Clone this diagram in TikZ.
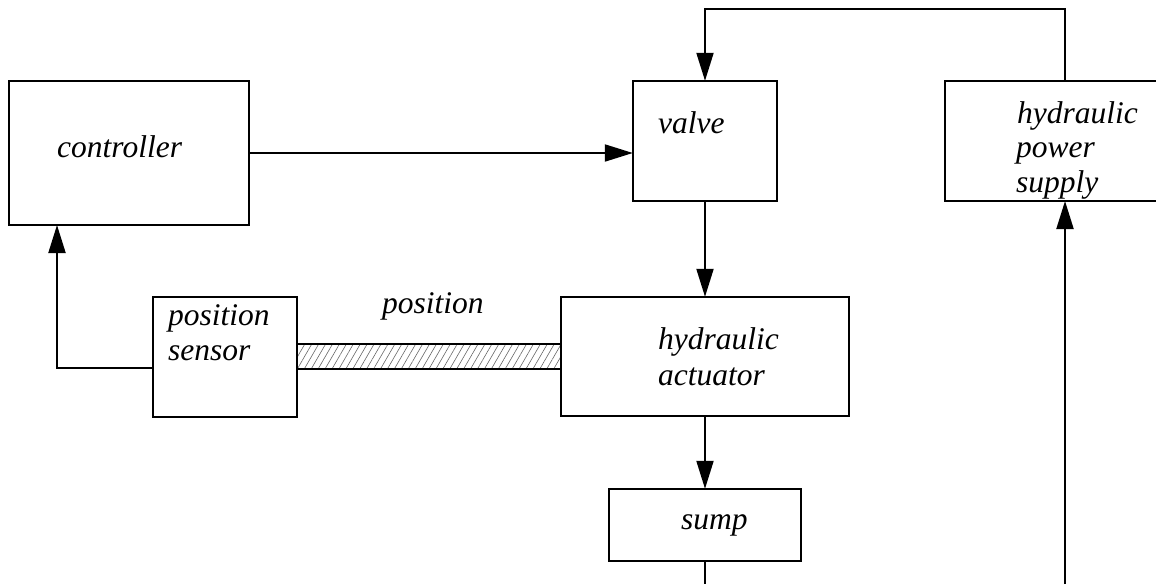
\documentclass[tikz,border=0pt]{standalone}
\usepackage{fontspec}
\setmainfont{Liberation Serif}
\usetikzlibrary{arrows.meta,patterns.meta,calc}
\begin{document}
\begin{tikzpicture}[x=1pt,y=-1pt,
  blk/.style={draw,line width=2pt,inner sep=0pt,outer sep=0pt},
  txt/.style={inner sep=0pt,anchor=base west,font=\fontsize{31.5}{35}\selectfont\itshape},
  wire/.style={line width=2pt},
  arr/.style={line width=2pt,-{Triangle[length=28pt,width=17pt]}}]
\useasboundingbox (0,0) rectangle (1156,584);
% boxes
\draw[blk] (9,81) rectangle (249,225);
\node[inner sep=0pt] (ctrl) at (129,153) [minimum width=240pt,minimum height=144pt] {};
\draw[blk] (633,81) rectangle (777,201);
\node[inner sep=0pt] (valve) at (705,141) [minimum width=144pt,minimum height=120pt] {};
\draw[blk] (945,81) rectangle (1162,201);
\node[inner sep=0pt] (hps) at (1053.5,141) [minimum width=217pt,minimum height=120pt] {};
\draw[blk] (153,297) rectangle (297,417);
\node[inner sep=0pt] (sens) at (225,357) [minimum width=144pt,minimum height=120pt] {};
\draw[blk] (561,297) rectangle (849,416);
\node[inner sep=0pt] (act) at (705,356.5) [minimum width=288pt,minimum height=119pt] {};
\draw[blk] (609,489) rectangle (801,561);
\node[inner sep=0pt] (sump) at (705,525) [minimum width=192pt,minimum height=72pt] {};
% texts
\node[txt] (tctrl) at (57,157) {controller};
\node[txt] (tvalve) at (658,133) {valve};
\node[txt] (thps1) at (1017,123) {hydraulic};
\node[txt] (thps2) at (1016,157) {power};
\node[txt] (thps3) at (1016,192) {supply};
\node[txt] (tsens1) at (168,325) {position};
\node[txt] (tsens2) at (168,360) {sensor};
\node[txt] (tpos) at (382,313) {position};
\node[txt] (tact1) at (658,349) {hydraulic};
\node[txt] (tact2) at (658,385) {actuator};
\node[txt] (tsump) at (681,529) {sump};
% hatched link
\node[draw,line width=2pt,inner sep=0pt,minimum width=264pt,minimum height=25pt,
  pattern={Lines[angle=60,distance=6pt,line width=0.6pt]},pattern color=black!60] (bar) at (429,356.5) {};
% coordinates
\coordinate (topR) at (1065,9);
\coordinate (topL) at (705,9);
\coordinate (hpsTop) at (1065,81);
\coordinate (hpsBot) at (1065,201);
\coordinate (botR) at (1065,584);
\coordinate (botS) at (705,584);
\coordinate (sensL) at (153,368);
\coordinate (cornL) at (57,368);
\coordinate (ctrlB) at (57,225);
% connectors
\draw[arr] (ctrl.east) -- (ctrl.east -| valve.west);
\draw[arr] (hpsTop) -- (topR) -- (topL) -- (valve.north);
\draw[arr] (valve.south) -- (act.north);
\draw[arr] (act.south) -- (sump.north);
\draw[wire] (sump.south) -- (botS);
\draw[arr] (botR) -- (hpsBot);
\draw[arr] (sensL) -- (cornL) -- (ctrlB);
\end{tikzpicture}
\end{document}
